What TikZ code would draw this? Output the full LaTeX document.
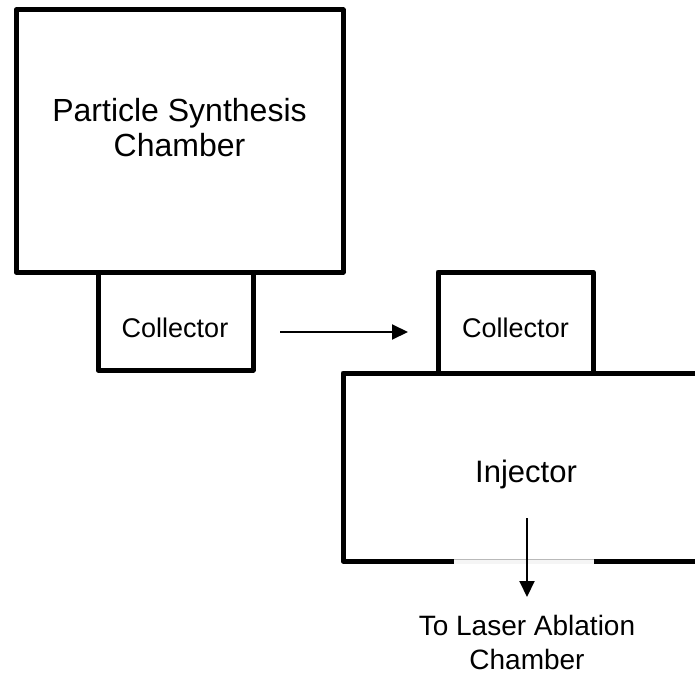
\documentclass[tikz,border=0pt]{standalone}
\usepackage{fontspec}
\setmainfont{Liberation Sans}
\usetikzlibrary{arrows.meta}

\begin{document}
\begin{tikzpicture}[x=1pt, y=-1pt,
    box/.style={draw, line width=5pt, line join=round, inner sep=0pt},
    wall/.style={line width=5pt, line join=round},
    flow/.style={line width=2pt, -{Triangle[length=16pt,width=15pt]}},
    big/.style={font=\fontsize{32}{35.5}\selectfont, align=center, anchor=base, inner sep=0pt},
    small/.style={font=\fontsize{27}{35}\selectfont, align=center, anchor=base, inner sep=0pt}]
    \useasboundingbox (0,0) rectangle (695,676);
    % Chamber and collectors:
    \node[box, minimum width=327pt, minimum height=262pt] (chamber) at (179.5,141) {};
    \node[box, minimum width=155pt, minimum height=98pt] (collA) at (175.5,321) {};
    \node[box, minimum width=155pt, minimum height=101pt] (collB) at (515.5,322.5) {};
    % Injector (open to the right, gap at the bottom):
    \coordinate (injTR) at (695,373);
    \coordinate (injTL) at (343,373);
    \coordinate (injBL) at (343,561);
    \coordinate (gapL) at (454,561);
    \coordinate (gapR) at (594,561);
    \coordinate (injBR) at (695,561);
    \draw[wall] (injTR) -- (injTL) -- (injBL) -- (gapL);
    \draw[wall] (gapR) -- (injBR);
    \fill[gray!8] ([yshift=-2.5pt]gapL) rectangle ([yshift=2pt]gapR);
    \draw[gray!55, line width=1pt] ([yshift=2pt]gapL) -- ([yshift=2pt]gapR);
    % Labels:
    \node[big] (chamberText) at (179.5,157) {Particle Synthesis\\Chamber};
    \node[small] (collAText) at (175,337) {Collector};
    \node[small] (collBText) at (515.5,337) {Collector};
    \node[big, font=\fontsize{31}{35}\selectfont] (injText) at (526,482) {Injector};
    \node[small, font=\fontsize{28}{34.5}\selectfont] (outText) at (527,669.5) {To Laser Ablation\\Chamber};
    % Arrows:
    \coordinate (moveA) at (280,332);
    \coordinate (moveB) at (408,332);
    \draw[flow] (moveA) -- (moveB);
    \coordinate (outA) at (527,518);
    \coordinate (outB) at (527,597);
    \draw[flow] (outA) -- (outB);
\end{tikzpicture}
\end{document}
